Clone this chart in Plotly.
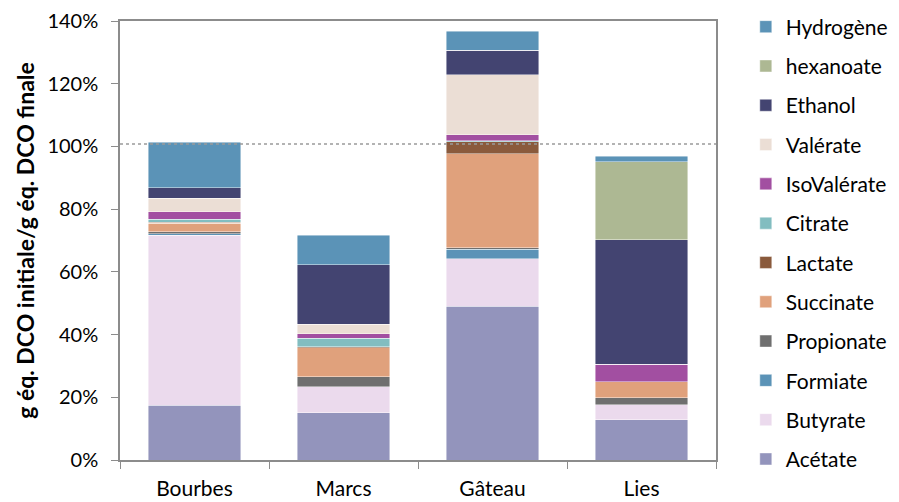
import plotly.graph_objects as go

categories = ["Bourbes", "Marcs", "Gâteau", "Lies"]

# values in % (bottom to top of stack)
acetate     = [17.4, 15.1, 49.0, 12.9]
butyrate    = [54.2,  8.2, 15.2,  4.7]
formiate    = [ 0.6,  0.0,  3.0,  0.0]
propionate  = [ 0.6,  3.3,  0.5,  2.3]
succinate   = [ 2.7,  9.2, 30.0,  5.0]
lactate     = [ 0.4,  0.3,  3.8,  0.0]
citrate     = [ 0.9,  2.8,  0.3,  0.0]
isovalerate = [ 2.3,  1.4,  2.0,  5.6]
valerate    = [ 4.3,  3.0, 19.0,  0.0]
ethanol     = [ 3.4, 19.0,  7.8, 39.7]
hexanoate   = [ 0.0,  0.0,  0.0, 24.9]
hydrogene   = [14.6,  9.4,  6.2,  1.8]

series_names = ["Acétate", "Butyrate", "Formiate", "Propionate", "Succinate", "Lactate",
                "Citrate", "IsoValérate", "Valérate", "Ethanol", "hexanoate", "Hydrogène"]
series_values = [acetate, butyrate, formiate, propionate, succinate, lactate,
                 citrate, isovalerate, valerate, ethanol, hexanoate, hydrogene]
series_colors = ["#9394BC", "#EBDAED", "#5B93B7", "#6F6F6F", "#E0A17C", "#8A5A3C",
                 "#82BDC0", "#A24FA1", "#EBDED5", "#434471", "#ADB893", "#5B93B7"]

reference_line = 100.8
y_ticks = [0, 20, 40, 60, 80, 100, 120, 140]

FONT = "Lato"

fig = go.Figure()
n = len(series_names)
for i, (name, vals, col) in enumerate(zip(series_names, series_values, series_colors)):
    fig.add_trace(go.Bar(
        x=categories, y=vals, name=name, legendgroup=name, legendrank=n - i,
        marker=dict(color=col, line=dict(color="rgba(255,255,255,0.55)", width=0.8)),
    ))

fig.add_shape(type="line", xref="paper", x0=0, x1=1, yref="y",
              y0=reference_line, y1=reference_line,
              line=dict(color="#9A9A9A", width=1.5, dash="dot"), layer="above")

axis_line = "#8C8C8C"
fig.update_layout(
    width=899, height=502,
    margin=dict(l=112, r=191, t=13, b=50, autoexpand=False),
    barmode="stack", bargap=0.378,
    plot_bgcolor="white", paper_bgcolor="white",
    font=dict(family=FONT, size=20, color="#000000"),
    showlegend=True,
    legend=dict(
        traceorder="grouped", x=1.05, xanchor="left", y=1.033, yanchor="top",
        font=dict(family=FONT, size=21), tracegroupgap=9,
        itemwidth=30, bgcolor="rgba(0,0,0,0)", maxheight=1,
    ),
    xaxis=dict(
        showline=True, linecolor=axis_line, linewidth=1.5, mirror=True,
        ticks="outside", tickson="boundaries", ticklen=7, tickcolor=axis_line,
        tickfont=dict(family=FONT, size=21), showgrid=False, ticklabelstandoff=9,
    ),
    yaxis=dict(
        range=[0, 140], tickvals=y_ticks, ticktext=[f"{v}%" for v in y_ticks],
        showline=True, linecolor=axis_line, linewidth=1.5, mirror=True,
        ticks="outside", ticklen=7, tickcolor=axis_line, showgrid=False,
        tickfont=dict(family=FONT, size=20), zeroline=False, ticklabelstandoff=9,
        title=dict(text="<b>g éq. DCO initiale/g éq. DCO finale</b>",
                   font=dict(family=FONT, size=23), standoff=6),
    ),
)

fig.write_html("out.html")
